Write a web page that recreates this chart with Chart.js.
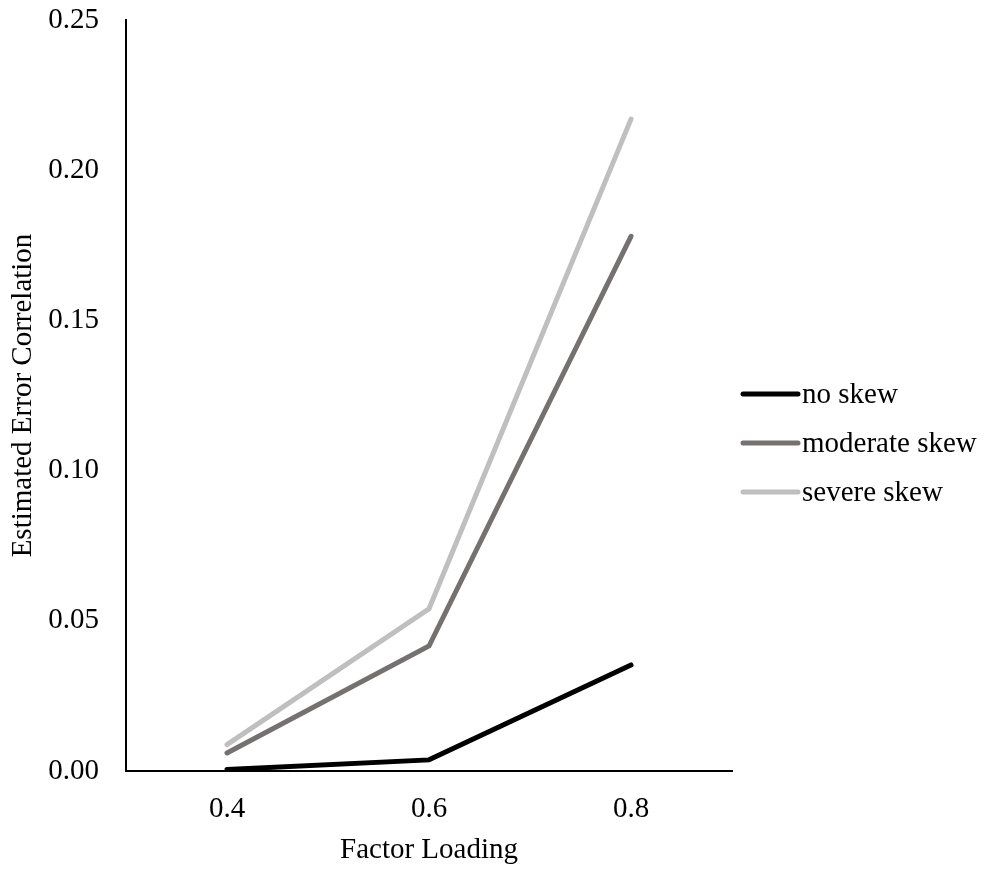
<!DOCTYPE html>
<html>
<head>
<meta charset="utf-8">
<script src="https://cdn.jsdelivr.net/npm/chart.js@4/dist/chart.umd.min.js"></script>
<style>
  html, body { margin: 0; padding: 0; background: #fff; }
  #wrap { width: 984px; height: 869px; }
</style>
</head>
<body>
<div id="wrap"><canvas id="chart" width="984" height="869"></canvas></div>
<script>
// factor loading vs estimated error correlation
const loadings = ['0.4', '0.6', '0.8'];
const noSkew = [0.0005, 0.0037, 0.0353];
const moderateSkew = [0.006, 0.0416, 0.178];
const severeSkew = [0.0088, 0.054, 0.217];
const yTicks = [0, 0.05, 0.10, 0.15, 0.20, 0.25];

const FONT = "'Liberation Serif', 'Times New Roman', serif";
const FS = 29;

// legend drawn to the right, line sample followed by label
const sideLegend = {
  id: 'sideLegend',
  afterDraw(chart) {
    const ctx = chart.ctx;
    const x0 = 743, len = 55, rowH = 49;
    const midY = 443;
    const sets = chart.data.datasets;
    const startY = midY - rowH * (sets.length - 1) / 2;
    ctx.save();
    ctx.font = FS + 'px ' + FONT;
    ctx.textBaseline = 'middle';
    ctx.fillStyle = '#000';
    sets.forEach((ds, i) => {
      const y = startY + i * rowH;
      ctx.beginPath();
      ctx.lineWidth = 5;
      ctx.lineCap = 'round';
      ctx.strokeStyle = ds.borderColor;
      ctx.moveTo(x0, y);
      ctx.lineTo(x0 + len, y);
      ctx.stroke();
      ctx.fillText(ds.label, x0 + len + 4, y + 1);
    });
    ctx.restore();
  }
};

function series(label, data, color) {
  return {
    label: label,
    data: data,
    borderColor: color,
    backgroundColor: color,
    borderWidth: 5,
    borderCapStyle: 'round',
    borderJoinStyle: 'miter',
    pointRadius: 0,
    tension: 0,
    fill: false,
    clip: false
  };
}

const ctx = document.getElementById('chart').getContext('2d');
new Chart(ctx, {
  type: 'line',
  data: {
    labels: loadings,
    datasets: [
      series('no skew', noSkew, '#000000'),
      series('moderate skew', moderateSkew, '#767171'),
      series('severe skew', severeSkew, '#bfbfbf')
    ]
  },
  options: {
    responsive: false,
    animation: false,
    layout: { padding: { top: 20, right: 252, bottom: 0, left: 0 } },
    plugins: {
      legend: { display: false },
      tooltip: { enabled: false }
    },
    scales: {
      x: {
        offset: true,
        grid: { display: false },
        border: { display: true, color: '#000', width: 2 },
        ticks: { color: '#000', font: { family: FONT, size: FS }, padding: 13 },
        title: {
          display: true,
          text: 'Factor Loading',
          color: '#000',
          font: { family: FONT, size: FS },
          padding: { top: 0, bottom: 1 }
        },
        afterFit(scale) { scale.height = 98; }
      },
      y: {
        min: 0,
        max: 0.25,
        grid: { display: false },
        border: { display: true, color: '#000', width: 2 },
        afterBuildTicks(scale) { scale.ticks = yTicks.map(v => ({ value: v })); },
        ticks: {
          color: '#000',
          font: { family: FONT, size: FS },
          padding: 19,
          callback: v => Number(v).toFixed(2)
        },
        title: {
          display: true,
          text: 'Estimated Error Correlation',
          color: '#000',
          font: { family: FONT, size: FS },
          padding: { top: 6, bottom: 0 }
        },
        afterFit(scale) {
          scale.width = 126;
          scale.paddingTop = 0;
          scale.paddingBottom = 0;
        }
      }
    }
  },
  plugins: [sideLegend]
});
</script>
</body>
</html>
